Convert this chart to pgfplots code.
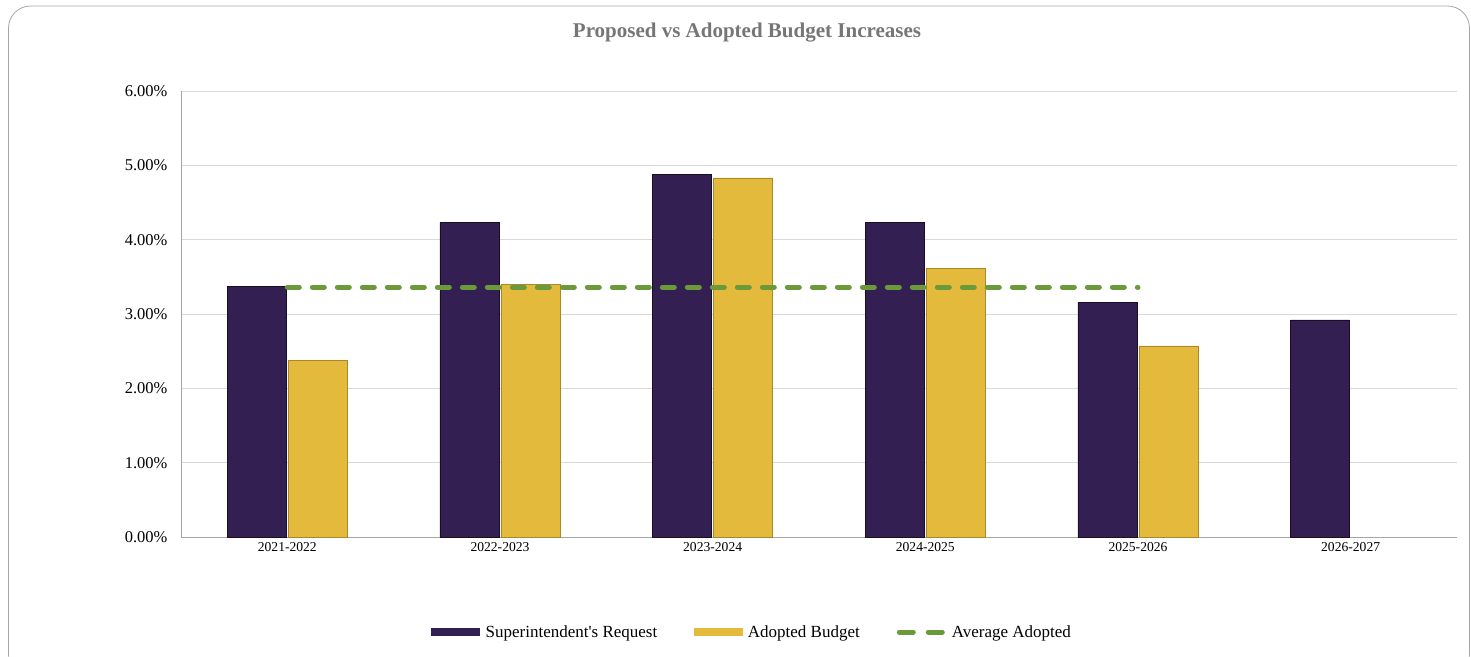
\documentclass[border=0pt]{standalone}
\usepackage{pgfplots}
\pgfplotsset{compat=1.18}
\usepackage{fontspec}
\setmainfont{Liberation Serif}
\definecolor{reqpurple}{RGB}{52,31,82}
\definecolor{reqedge}{RGB}{25,14,40}
\definecolor{adgold}{RGB}{228,186,60}
\definecolor{adedge}{RGB}{170,135,40}
\definecolor{avggreen}{RGB}{108,154,58}
\definecolor{gridgray}{RGB}{217,217,217}
\definecolor{axisgray}{RGB}{166,166,166}
\definecolor{titlegray}{RGB}{118,118,118}
\begin{document}
\begin{tikzpicture}[x=1pt,y=1pt]
\useasboundingbox (0,0) rectangle (1471,656);
\draw[axisgray, line width=0.8pt, rounded corners=22pt] (8.5,-20) rectangle (1469.5,650);
\node[font=\fontsize{21}{24}\selectfont\bfseries, text=titlegray] at (747,623) {Proposed vs Adopted Budget Increases};
\begin{axis}[
  at={(181pt,119pt)}, anchor=south west,
  scale only axis, width=1276pt, height=446pt,
  xmin=-0.5, xmax=5.5, ymin=0, ymax=6,
  axis x line*=bottom, axis y line*=left,
  axis line style={axisgray, line width=0.8pt, -},
  ytick={0,1,2,3,4,5,6},
  yticklabel={\pgfmathprintnumber[fixed,fixed zerofill,precision=2,assume math mode=true]{\tick}\%},
  yticklabel style={font=\fontsize{16.5}{19}\selectfont, xshift=-10pt},
  xtick={0,1,2,3,4,5},
  xticklabels={2021-2022,2022-2023,2023-2024,2024-2025,2025-2026,2026-2027},
  xticklabel style={font=\fontsize{13.6}{16}\selectfont, yshift=-2pt},
  major tick length=0pt,
  ymajorgrids, grid style={gridgray, line width=0.8pt},
  ybar=2pt, bar width=59pt,
  legend columns=3,
  legend style={at={(0.4475,-0.213)}, anchor=center, draw=none, fill=none,
    font=\fontsize{17}{20}\selectfont,
    /tikz/every even column/.append style={column sep=35pt},
    inner sep=0pt, row sep=0pt},
  legend cell align=left,
]
\addplot[fill=reqpurple, draw=reqedge, line width=0.6pt,
  legend image code/.code={\fill[reqpurple] (0pt,-3.5pt) rectangle (48pt,3.5pt); \path (52pt,0pt);}]
  coordinates {(0,3.37) (1,4.23) (2,4.88) (3,4.23) (4,3.16) (5,2.92)};
\addlegendentry{Superintendent\textquotesingle s Request}
\addplot[fill=adgold, draw=adedge, line width=0.6pt,
  legend image code/.code={\fill[adgold] (0pt,-3.5pt) rectangle (48pt,3.5pt); \path (51pt,0pt);}]
  coordinates {(0,2.38) (1,3.40) (2,4.83) (3,3.61) (4,2.57)};
\addlegendentry{Adopted Budget}
\addplot[sharp plot, avggreen, line width=5pt, line cap=round, dash pattern=on 12pt off 13pt,
  legend image code/.code={\draw[avggreen, line width=5pt, line cap=round, dash pattern=on 14pt off 15pt] (3pt,0pt) -- (50pt,0pt); \path (51pt,0pt);}]
  coordinates {(0,3.36) (4,3.36)};
\addlegendentry{Average Adopted}
\end{axis}
\end{tikzpicture}
\end{document}
